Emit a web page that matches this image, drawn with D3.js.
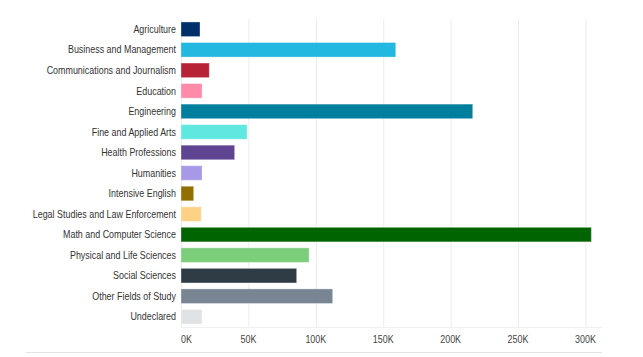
<!DOCTYPE html>
<html><head><meta charset="utf-8">
<script src="https://cdn.jsdelivr.net/npm/d3@7"></script>
<style>body{margin:0;background:#fff;}svg{display:block;font-family:"Liberation Sans",Arial,sans-serif;}</style>
</head><body><svg id="c" width="643" height="357"></svg>
<script>
const categories = ["Agriculture","Business and Management","Communications and Journalism","Education","Engineering","Fine and Applied Arts","Health Professions","Humanities","Intensive English","Legal Studies and Law Enforcement","Math and Computer Science","Physical and Life Sciences","Social Sciences","Other Fields of Study","Undeclared"];
const values = [14100,159300,21000,15600,216400,49000,39800,15600,9400,15000,304400,95000,85800,112500,15600];
const colors = ["#002f6c","#22b8e0","#b72237","#ff8aaa","#007e9e","#5ee8e0","#5f4591","#a898e8","#927000","#ffd184","#006400","#7bcf7b","#2f3b45","#7a8593","#e0e3e6"];
const tickValues = [0,50000,100000,150000,200000,250000,300000];
const tickLabels = ["0K","50K","100K","150K","200K","250K","300K"];

const svg = d3.select("#c");
const x = d3.scaleLinear().domain([0,312300]).range([181,602]);
const y = d3.scaleBand().domain(categories).range([19,327]).paddingInner(0.29).paddingOuter(0.145);
const sx = 0.85;

// gridlines
svg.append("g").selectAll("line").data(tickValues).join("line")
  .attr("x1",d=>x(d)+0.5).attr("x2",d=>x(d)+0.5).attr("y1",19).attr("y2",327)
  .attr("stroke","#ececec").attr("stroke-width",1);
svg.append("line").attr("x1",181).attr("x2",602).attr("y1",327.5).attr("y2",327.5).attr("stroke","#f0f0f0");

// bars
svg.append("g").selectAll("rect").data(categories).join("rect")
  .attr("x",x(0)).attr("y",d=>y(d))
  .attr("width",(d,i)=>x(values[i])-x(0)).attr("height",y.bandwidth())
  .attr("fill",(d,i)=>colors[i])
  .attr("stroke","rgba(255,255,255,0.35)").attr("stroke-width",1);

// y labels
svg.append("g").selectAll("text").data(categories).join("text")
  .attr("transform",d=>`translate(176,${y(d)+y.bandwidth()/2}) scale(${sx},1)`)
  .attr("dy","0.35em")
  .attr("text-anchor","end").attr("font-size","10.5px").attr("fill","#333").text(d=>d);

// x axis labels
svg.append("g").selectAll("text").data(tickValues).join("text")
  .attr("transform",d=>`translate(${x(d)},343) scale(${sx},1)`)
  .attr("text-anchor",(d,i)=>i===0?"start":"middle")
  .attr("font-size","10.5px").attr("fill","#444").text((d,i)=>tickLabels[i]);

// bottom rule
svg.append("line").attr("x1",26).attr("x2",602).attr("y1",352.5).attr("y2",352.5).attr("stroke","#e3e3e3");
</script></body></html>
